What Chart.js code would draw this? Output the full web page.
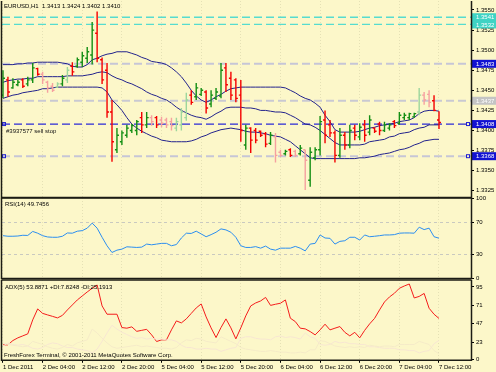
<!DOCTYPE html>
<html>
<head>
<meta charset="utf-8">
<script src="https://cdn.jsdelivr.net/npm/chart.js@4.4.1/dist/chart.umd.min.js"></script>
<style>
  html, body { margin: 0; padding: 0; background: #FCF7C9; }
  body { width: 496px; height: 372px; position: relative; overflow: hidden; }
  canvas { position: absolute; left: 0; }
</style>
</head>
<body>
<canvas id="mainChart" width="496" height="212" style="top:-7px"></canvas>
<canvas id="rsiChart" width="496" height="96" style="top:190px"></canvas>
<canvas id="adxChart" width="496" height="100" style="top:272px"></canvas>
<script>
// EURUSD H1, 1 Dec 20:00 .. 7 Dec 12:00 (one value per bar)
const timeLabels = ['1 Dec 2011', '2 Dec 04:00', '2 Dec 12:00', '2 Dec 20:00', '5 Dec 04:00', '5 Dec 12:00',
  '5 Dec 20:00', '6 Dec 04:00', '6 Dec 12:00', '6 Dec 20:00', '7 Dec 04:00', '7 Dec 12:00'];

const opens = [1.3444,1.3463,1.3453,1.3457,1.3463,1.3458,1.3463,1.3477,1.3470,1.3460,
  1.3455,1.3454,1.3458,1.3463,1.3480,1.3480,1.3485,1.3490,1.3494,1.3521,
  1.3488,1.3475,1.3423,1.3376,1.3386,1.3394,1.3400,1.3400,1.3416,1.3407,
  1.3416,1.3416,1.3413,1.3413,1.3411,1.3403,1.3407,1.3416,1.3444,1.3442,
  1.3445,1.3448,1.3433,1.3440,1.3443,1.3478,1.3465,1.3463,1.3444,1.3382,
  1.3403,1.3400,1.3399,1.3396,1.3384,1.3392,1.3373,1.3371,1.3376,1.3374,
  1.3371,1.3376,1.3338,1.3366,1.3376,1.3413,1.3407,1.3397,1.3369,1.3394,
  1.3382,1.3403,1.3392,1.3407,1.3398,1.3403,1.3408,1.3400,1.3403,1.3411,
  1.3409,1.3416,1.3416,1.3417,1.3423,1.3444,1.3445,1.3437,1.3413];
const highs = [1.3475,1.3467,1.3465,1.3463,1.3465,1.3467,1.3484,1.3478,1.3473,1.3462,
  1.3459,1.3460,1.3469,1.3479,1.3485,1.3491,1.3498,1.3504,1.3535,1.3548,
  1.3491,1.3484,1.3438,1.3403,1.3400,1.3407,1.3408,1.3413,1.3423,1.3423,
  1.3419,1.3418,1.3417,1.3416,1.3416,1.3416,1.3428,1.3447,1.3450,1.3459,
  1.3453,1.3450,1.3450,1.3453,1.3484,1.3484,1.3473,1.3465,1.3463,1.3407,
  1.3404,1.3403,1.3400,1.3398,1.3398,1.3397,1.3376,1.3376,1.3378,1.3376,
  1.3382,1.3376,1.3379,1.3379,1.3418,1.3425,1.3413,1.3400,1.3403,1.3398,
  1.3407,1.3407,1.3409,1.3413,1.3419,1.3404,1.3411,1.3411,1.3409,1.3413,
  1.3423,1.3422,1.3422,1.3422,1.3453,1.3448,1.3450,1.3444,1.3424];
const lows = [1.3440,1.3442,1.3452,1.3455,1.3453,1.3455,1.3459,1.3468,1.3458,1.3447,
  1.3448,1.3453,1.3455,1.3459,1.3468,1.3478,1.3479,1.3484,1.3482,1.3485,
  1.3458,1.3416,1.3361,1.3372,1.3382,1.3391,1.3397,1.3394,1.3397,1.3403,
  1.3406,1.3403,1.3404,1.3403,1.3400,1.3399,1.3400,1.3412,1.3432,1.3438,
  1.3443,1.3421,1.3429,1.3438,1.3440,1.3448,1.3438,1.3435,1.3386,1.3376,
  1.3372,1.3384,1.3392,1.3379,1.3382,1.3360,1.3367,1.3369,1.3367,1.3367,
  1.3369,1.3326,1.3330,1.3363,1.3369,1.3384,1.3392,1.3360,1.3366,1.3376,
  1.3378,1.3388,1.3388,1.3386,1.3394,1.3397,1.3394,1.3398,1.3400,1.3403,
  1.3407,1.3413,1.3413,1.3416,1.3419,1.3432,1.3429,1.3424,1.3402];
const closes = [1.3465,1.3448,1.3460,1.3460,1.3455,1.3463,1.3478,1.3470,1.3463,1.3453,
  1.3450,1.3458,1.3465,1.3475,1.3473,1.3488,1.3493,1.3498,1.3525,1.3490,
  1.3463,1.3423,1.3386,1.3394,1.3397,1.3403,1.3406,1.3411,1.3407,1.3416,
  1.3411,1.3407,1.3409,1.3407,1.3406,1.3411,1.3423,1.3438,1.3435,1.3453,
  1.3450,1.3428,1.3444,1.3448,1.3475,1.3457,1.3444,1.3440,1.3400,1.3403,
  1.3388,1.3388,1.3394,1.3383,1.3394,1.3369,1.3369,1.3374,1.3369,1.3369,
  1.3378,1.3363,1.3373,1.3376,1.3411,1.3394,1.3397,1.3369,1.3394,1.3382,
  1.3400,1.3394,1.3404,1.3394,1.3413,1.3399,1.3400,1.3407,1.3407,1.3406,
  1.3419,1.3419,1.3421,1.3421,1.3444,1.3438,1.3435,1.3425,1.3410];
// bars shown in the paler colours
const weakBars = [8, 9, 10, 11, 13, 30, 32, 33, 34, 35, 36, 37, 55, 56, 59, 61, 84, 85, 86];

const bbUpper = [1.3482,1.3482,1.3482,1.3483,1.3483,1.3484,1.3484,1.3485,1.3485,1.3485,
  1.3485,1.3485,1.3484,1.3483,1.3480,1.3479,1.3479,1.3482,1.3488,1.3490,
  1.3493,1.3495,1.3496,1.3498,1.3498,1.3498,1.3496,1.3494,1.3491,1.3489,
  1.3486,1.3485,1.3484,1.3482,1.3478,1.3473,1.3467,1.3459,1.3450,1.3443,
  1.3438,1.3435,1.3438,1.3442,1.3445,1.3449,1.3452,1.3453,1.3454,1.3454,
  1.3454,1.3454,1.3454,1.3454,1.3454,1.3454,1.3454,1.3453,1.3450,1.3447,
  1.3443,1.3440,1.3438,1.3434,1.3429,1.3419,1.3411,1.3401,1.3398,1.3398,
  1.3398,1.3398,1.3399,1.3401,1.3403,1.3404,1.3406,1.3407,1.3408,1.3409,
  1.3411,1.3412,1.3413,1.3416,1.3421,1.3424,1.3425,1.3425,1.3424];
const bbMiddle = [1.3460,1.3462,1.3463,1.3464,1.3464,1.3465,1.3465,1.3467,1.3467,1.3467,
  1.3467,1.3467,1.3467,1.3468,1.3468,1.3468,1.3468,1.3469,1.3470,1.3472,
  1.3473,1.3472,1.3468,1.3465,1.3463,1.3460,1.3458,1.3455,1.3452,1.3448,
  1.3445,1.3443,1.3440,1.3438,1.3434,1.3429,1.3425,1.3422,1.3419,1.3417,
  1.3416,1.3414,1.3417,1.3421,1.3424,1.3428,1.3429,1.3429,1.3429,1.3428,
  1.3428,1.3427,1.3425,1.3425,1.3424,1.3423,1.3423,1.3422,1.3419,1.3416,
  1.3412,1.3408,1.3407,1.3404,1.3400,1.3395,1.3390,1.3385,1.3382,1.3382,
  1.3382,1.3382,1.3382,1.3383,1.3386,1.3387,1.3388,1.3389,1.3392,1.3393,
  1.3396,1.3397,1.3398,1.3401,1.3403,1.3404,1.3407,1.3407,1.3407];
const bbLower = [1.3440,1.3442,1.3444,1.3445,1.3447,1.3448,1.3449,1.3450,1.3452,1.3452,
  1.3453,1.3454,1.3454,1.3454,1.3454,1.3454,1.3454,1.3454,1.3454,1.3454,
  1.3453,1.3448,1.3438,1.3432,1.3425,1.3416,1.3408,1.3403,1.3399,1.3396,
  1.3393,1.3391,1.3388,1.3387,1.3386,1.3386,1.3386,1.3386,1.3387,1.3389,
  1.3392,1.3394,1.3397,1.3399,1.3401,1.3402,1.3403,1.3402,1.3401,1.3399,
  1.3398,1.3398,1.3397,1.3396,1.3394,1.3393,1.3392,1.3389,1.3386,1.3381,
  1.3376,1.3371,1.3366,1.3365,1.3365,1.3365,1.3365,1.3365,1.3365,1.3365,
  1.3365,1.3365,1.3366,1.3366,1.3367,1.3368,1.3370,1.3371,1.3372,1.3374,
  1.3376,1.3377,1.3379,1.3382,1.3384,1.3387,1.3388,1.3389,1.3389];

const rsi = [52.9,52.2,52.2,52.5,53.4,53.2,58.2,56.0,52.9,51.3,
  50.9,50.9,52.2,56.3,56.0,58.5,59.2,62.3,68.6,62.3,
  50.9,40.3,31.9,34.8,36.1,39.0,38.6,38.2,38.6,42.4,
  41.5,42.4,43.3,43.3,40.3,41.8,50.0,56.0,55.7,58.5,
  55.1,51.6,54.2,57.2,61.4,60.1,57.2,50.9,40.3,38.2,
  38.2,39.2,37.3,39.9,36.1,34.8,37.3,37.3,37.3,39.5,
  37.3,33.9,42.4,43.3,53.8,50.0,49.6,42.4,45.8,46.6,
  50.9,50.9,47.5,53.8,51.6,52.2,52.9,53.8,53.8,54.2,
  56.0,56.3,56.3,56.0,63.5,60.5,62.3,51.6,49.7456];

const adx = [19.5,19.5,25.1,28.6,31.2,33.8,52.0,66.3,60.5,58.5,
  56.6,54.6,57.9,65.0,71.5,78.0,83.2,88.4,93.2,97.5,
  70.2,59.4,59.4,59.4,42.0,41.2,42.9,37.1,38.4,39.7,
  32.5,23.8,26.0,26.0,39.0,50.7,48.1,53.3,60.5,67.6,
  72.8,55.9,41.6,29.0,42.0,53.3,41.6,27.3,41.6,57.2,
  70.2,74.1,76.7,81.3,70.9,72.4,73.7,78.0,54.2,49.8,
  41.2,40.3,36.8,32.5,39.0,46.4,39.0,41.2,43.3,35.8,
  31.2,35.8,28.6,38.4,46.8,54.0,65.0,75.4,81.9,86.7,
  93.2,96.2,98.8,80.6,82.6,86.5,67.2,59.4,53.8871];
const plusDI = [22,20,19,18,17,18,24,22,20,17,
  15,14,16,20,18,22,24,26,40,35,
  28,22,17,15,16,17,18,19,17,18,
  17,16,15,15,14,16,22,26,25,28,
  27,24,23,22,30,27,24,21,16,14,
  13,12,11,11,12,11,10,10,9,9,
  10,9,13,13,25,24,21,18,17,16,
  17,16,17,16,19,18,17,18,18,17,
  20,20,20,20,24,22,20,12,7.8248];
const minusDI = [18,22,20,19,20,18,15,14,16,20,
  22,21,18,16,16,14,13,12,9,14,
  24,35,45,40,36,33,30,28,29,27,
  28,27,27,26,26,24,19,16,16,14,
  14,15,14,14,11,13,15,16,28,30,
  30,28,27,27,26,30,31,29,30,29,
  27,35,30,28,20,19,20,24,22,23,
  21,21,20,20,17,17,16,15,15,15,
  13,13,12,12,9,11,12,21,25.1913];

const priceTicks = [1.3325, 1.3350, 1.3375, 1.3400, 1.3425, 1.3450, 1.3475, 1.3500, 1.3525, 1.3550];
const rsiTicks = [0, 30, 70, 100];
const rsiLevels = [30, 70];
const adxTicks = [0, 23, 47, 71, 95];

// horizontal price lines on the main chart
const levelPrices = [1.3541, 1.3532, 1.3483, 1.3437, 1.3408, 1.3368];
const levelKinds = ['alert', 'alert', 'stop', 'last', 'order', 'target'];
const levelNames = ['', '', '', '', '#3937577 sell stop', ''];

const FONT = '6px "Liberation Sans", Arial, sans-serif';
Chart.defaults.font.family = '"Liberation Sans", Arial, sans-serif';
Chart.defaults.font.size = 6;
Chart.defaults.color = '#000';

const X_MIN = -0.2, X_MAX = 94.46;
const AXIS_W = 25;
const BAND = '#22228c';
const toPoints = arr => arr.map((v, i) => ({ x: i, y: v }));
const last = closes.length - 1;

const LEVEL_STYLE = {
  alert:  { line: '#56dccf', box: '#3fd3c4', width: 1.3, marks: false },
  stop:   { line: '#c6c6d6', box: '#1212d2', width: 2, marks: false },
  last:   { line: '#c9c9d2', box: '#c4c4c4', width: 2, marks: false },
  order:  { line: '#2b2bd6', box: '#1212d2', width: 1.3, marks: true },
  target: { line: '#c6c6d6', box: '#1212d2', width: 2, marks: true },
};

function xScale(withLabels) {
  return {
    type: 'linear', min: X_MIN, max: X_MAX,
    afterBuildTicks: s => { s.ticks = timeLabels.map((_, k) => ({ value: k * 8 })); },
    grid: { color: 'rgba(150,150,110,0.22)', drawTicks: withLabels, tickLength: 3, tickColor: '#000' },
    border: { display: false, dash: [1, 2] },
    ticks: { display: withLabels, align: 'start', padding: 1, maxRotation: 0, autoSkip: false,
      callback: v => timeLabels[Math.round(v / 8)] },
  };
}

function yScale(min, max, tickValues, fmt) {
  return {
    position: 'right', min, max,
    afterBuildTicks: s => { s.ticks = tickValues.map(v => ({ value: v })); },
    afterFit: s => { s.width = AXIS_W; },
    grid: { drawOnChartArea: false, drawTicks: true, tickLength: 3, tickColor: '#000' },
    border: { display: false },
    ticks: { padding: 2, autoSkip: false, callback: fmt },
  };
}

function frame(drawTop) {
  return {
    id: 'frame',
    afterDraw(chart) {
      const { ctx, chartArea: a } = chart;
      ctx.save();
      ctx.strokeStyle = '#1c1c14';
      ctx.lineWidth = 1.5;
      ctx.beginPath();
      if (drawTop) { ctx.moveTo(a.left - 0.5, a.top); ctx.lineTo(a.right + 0.5, a.top); }
      ctx.moveTo(a.left - 0.5, a.top); ctx.lineTo(a.left - 0.5, a.bottom + 0.5);
      ctx.lineTo(a.right + 0.5, a.bottom + 0.5); ctx.lineTo(a.right + 0.5, a.top);
      ctx.stroke();
      ctx.restore();
    }
  };
}

function caption(items) {
  return {
    id: 'caption',
    afterDraw(chart) {
      const { ctx, chartArea: a } = chart;
      ctx.save();
      ctx.font = FONT;
      ctx.fillStyle = '#000';
      ctx.textBaseline = 'middle';
      items.forEach(it => ctx.fillText(it.text, a.left + it.dx, it.fromBottom ? a.bottom - it.dy : a.top + it.dy));
      ctx.restore();
    }
  };
}

const ohlcBars = {
  id: 'ohlcBars',
  afterDatasetsDraw(chart) {
    const { ctx, chartArea: a, scales: { x, y } } = chart;
    ctx.save();
    ctx.beginPath(); ctx.rect(a.left, a.top, a.width, a.height); ctx.clip();
    ctx.lineWidth = 1.4;
    for (let i = 0; i < closes.length; i++) {
      const rising = closes[i] >= opens[i];
      const weak = weakBars.includes(i);
      ctx.strokeStyle = rising ? (weak ? '#9dd69d' : '#148f14') : (weak ? '#f6a0a0' : '#f40000');
      const px = x.getPixelForValue(i);
      const yo = y.getPixelForValue(opens[i]);
      const yc = y.getPixelForValue(closes[i]);
      ctx.beginPath();
      ctx.moveTo(px, y.getPixelForValue(highs[i]));
      ctx.lineTo(px, y.getPixelForValue(lows[i]));
      ctx.moveTo(px - 2, yo); ctx.lineTo(px, yo);
      ctx.moveTo(px, yc); ctx.lineTo(px + 2, yc);
      ctx.stroke();
    }
    ctx.restore();
  }
};

const priceLevels = {
  id: 'priceLevels',
  beforeDatasetsDraw(chart) {
    const { ctx, chartArea: a, scales: { y } } = chart;
    ctx.save();
    levelPrices.forEach((p, k) => {
      const st = LEVEL_STYLE[levelKinds[k]];
      const py = y.getPixelForValue(p);
      ctx.strokeStyle = st.line;
      ctx.lineWidth = st.width;
      ctx.setLineDash([8, 4]);
      ctx.beginPath(); ctx.moveTo(a.left, py); ctx.lineTo(a.right, py); ctx.stroke();
    });
    ctx.restore();
  },
  afterDraw(chart) {
    const { ctx, chartArea: a, scales: { y }, width } = chart;
    ctx.save();
    ctx.font = FONT;
    ctx.textBaseline = 'middle';
    levelPrices.forEach((p, k) => {
      const st = LEVEL_STYLE[levelKinds[k]];
      const py = y.getPixelForValue(p);
      ctx.fillStyle = st.box;
      ctx.fillRect(a.right + 1, py - 4, width - a.right - 1, 8);
      ctx.fillStyle = '#fff';
      ctx.fillText(p.toFixed(4), a.right + 5, py + 0.5);
      if (st.marks) {
        ctx.strokeStyle = '#2020d0';
        ctx.lineWidth = 1;
        ctx.setLineDash([]);
        ctx.strokeRect(a.left + 0.5, py - 1.5, 3, 3);
        ctx.strokeRect(a.right - 4.5, py - 1.5, 3, 3);
      }
      if (levelNames[k]) {
        ctx.fillStyle = '#111';
        ctx.fillText(levelNames[k], a.left + 4, py + 7.5);
      }
    });
    ctx.restore();
  }
};

const rsiLevelLines = {
  id: 'rsiLevels',
  beforeDatasetsDraw(chart) {
    const { ctx, chartArea: a, scales: { y } } = chart;
    ctx.save();
    ctx.strokeStyle = '#c9c9c0';
    ctx.lineWidth = 1;
    ctx.setLineDash([3, 3]);
    rsiLevels.forEach(v => {
      const py = Math.round(y.getPixelForValue(v)) + 0.5;
      ctx.beginPath(); ctx.moveTo(a.left, py); ctx.lineTo(a.right, py); ctx.stroke();
    });
    ctx.restore();
  }
};

const common = {
  responsive: false, animation: false, events: [],
  plugins: { legend: { display: false }, tooltip: { enabled: false } },
  elements: { point: { radius: 0 }, line: { tension: 0 } },
};

new Chart(document.getElementById('mainChart'), {
  type: 'line',
  data: {
    datasets: [
      { data: toPoints(bbUpper), borderColor: BAND, borderWidth: 1 },
      { data: toPoints(bbMiddle), borderColor: BAND, borderWidth: 1 },
      { data: toPoints(bbLower), borderColor: BAND, borderWidth: 1 },
    ]
  },
  options: {
    ...common,
    layout: { padding: { left: 2, right: 0, top: 8, bottom: 8 } },
    scales: {
      x: xScale(false),
      y: yScale(1.33172, 1.35612, priceTicks, v => v.toFixed(4)),
    },
  },
  plugins: [priceLevels, ohlcBars, frame(false),
    caption([{ text: `EURUSD,H1  ${opens[last].toFixed(4)} ${highs[last].toFixed(4)} ${lows[last].toFixed(4)} ${closes[last].toFixed(4)}`, dx: 2, dy: 5 }])],
});

new Chart(document.getElementById('rsiChart'), {
  type: 'line',
  data: { datasets: [{ data: toPoints(rsi), borderColor: '#2b8ef0', borderWidth: 1 }] },
  options: {
    ...common,
    layout: { padding: { left: 2, right: 0, top: 8, bottom: 8 } },
    scales: { x: xScale(false), y: yScale(0, 100, rsiTicks, v => String(v)) },
  },
  plugins: [rsiLevelLines, frame(true), caption([{ text: `RSI(14) ${rsi[last].toFixed(4)}`, dx: 3, dy: 6 }])],
});

new Chart(document.getElementById('adxChart'), {
  type: 'line',
  data: {
    datasets: [
      { data: toPoints(plusDI), borderColor: '#f5ebc8', borderWidth: 1 },
      { data: toPoints(minusDI), borderColor: '#f7e6d2', borderWidth: 1 },
      { data: toPoints(adx), borderColor: '#f41c1c', borderWidth: 1 },
    ]
  },
  options: {
    ...common,
    layout: { padding: { left: 2, right: 0, top: 8, bottom: 0 } },
    scales: { x: xScale(true), y: yScale(0, 104, adxTicks, v => String(v)) },
  },
  plugins: [frame(true), caption([
    { text: `ADX(5) ${adx[last].toFixed(4)} +DI:${plusDI[last].toFixed(4)} -DI:${minusDI[last].toFixed(4)}`, dx: 3, dy: 7 },
    { text: 'FreshForex Terminal, \u00A9 2001-2011 MetaQuotes Software Corp.', dx: 2, dy: 4, fromBottom: true },
  ])],
});
</script>
</body>
</html>
